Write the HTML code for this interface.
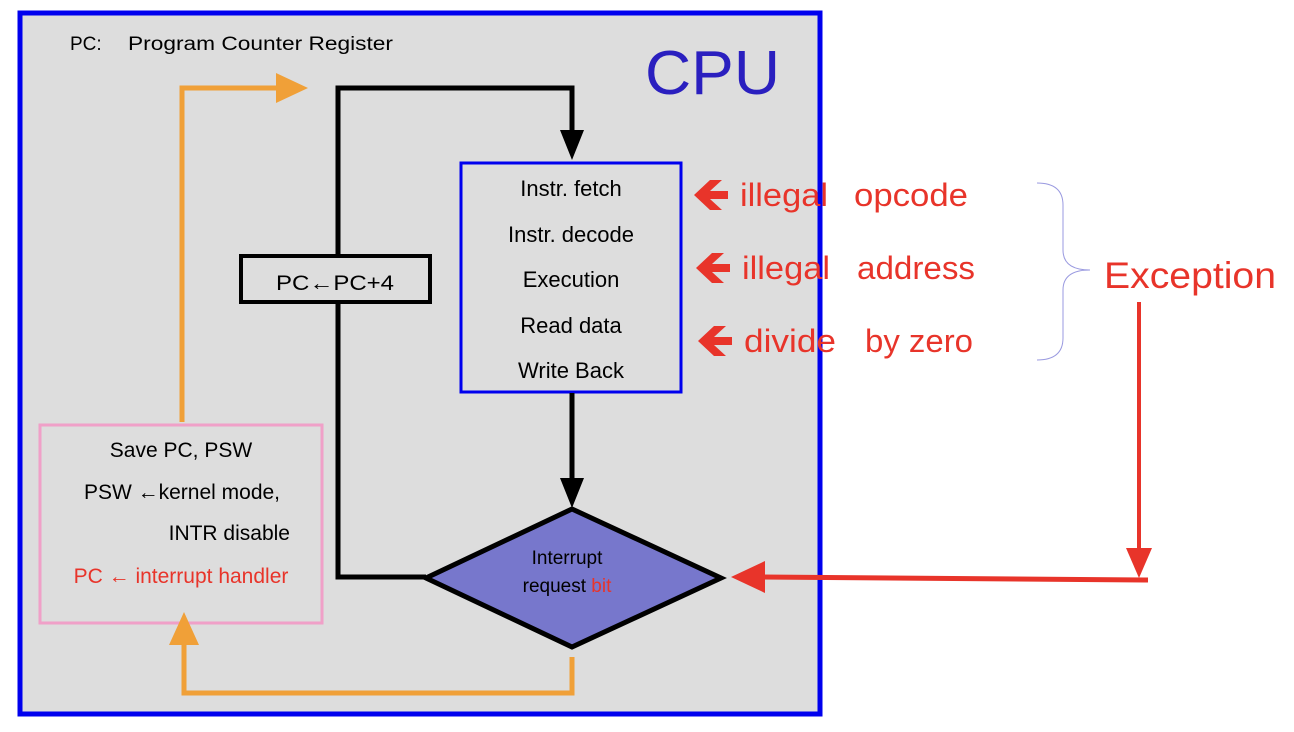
<!DOCTYPE html>
<html><head><meta charset="utf-8"><style>
html,body{margin:0;padding:0;background:#fff;}
svg{display:block;}
text{font-family:"Liberation Sans",sans-serif;}
</style></head><body>
<svg width="1294" height="732" viewBox="0 0 1294 732" xmlns="http://www.w3.org/2000/svg">
<rect x="20" y="13" width="800" height="701" fill="#dddddd" stroke="#0000ee" stroke-width="5"/>
<text x="70" y="50" font-size="19" fill="#000">PC:</text>
<text x="128" y="50" font-size="19" fill="#000" textLength="265" lengthAdjust="spacingAndGlyphs">Program Counter Register</text>
<text x="645" y="94" font-size="62" fill="#2a1fbf" textLength="135" lengthAdjust="spacingAndGlyphs">CPU</text>

<polyline points="182,422 182,88 280,88" fill="none" stroke="#f0a038" stroke-width="5"/>
<polygon points="276,73 308,88 276,103" fill="#f0a038"/>
<polyline points="338,255 338,88 572,88 572,135" fill="none" stroke="#000" stroke-width="5"/>
<polygon points="560,130 584,130 572,160" fill="#000"/>
<rect x="241" y="256" width="189" height="46" fill="none" stroke="#000" stroke-width="4"/>
<text x="335" y="290" font-size="21" text-anchor="middle" fill="#000" textLength="118" lengthAdjust="spacingAndGlyphs">PC←PC+4</text>
<polyline points="338,302 338,577 426,577" fill="none" stroke="#000" stroke-width="5"/>

<rect x="461" y="163" width="220" height="229" fill="none" stroke="#0000ee" stroke-width="3"/>
<g font-size="22" text-anchor="middle" fill="#000">
<text x="571" y="196">Instr. fetch</text>
<text x="571" y="242">Instr. decode</text>
<text x="571" y="287">Execution</text>
<text x="571" y="333">Read data</text>
<text x="571" y="378">Write Back</text>
</g>
<line x1="572" y1="393" x2="572" y2="482" stroke="#000" stroke-width="5"/>
<polygon points="560,478 584,478 572,508" fill="#000"/>

<polygon points="572,509 721,578 572,647 426,578" fill="#7777cc" stroke="#000" stroke-width="5"/>
<text x="567" y="564" font-size="19" text-anchor="middle" fill="#000">Interrupt</text>
<text x="567" y="592" font-size="19" text-anchor="middle" fill="#000">request <tspan fill="#e8342a">bit</tspan></text>

<line x1="1148" y1="580" x2="760" y2="577" stroke="#e8342a" stroke-width="5"/>
<polygon points="765,561 731,577 765,593" fill="#e8342a"/>
<line x1="1139" y1="302" x2="1139" y2="552" stroke="#e8342a" stroke-width="4"/>
<polygon points="1126,548 1152,548 1139,578" fill="#e8342a"/>

<g fill="#e8342a" font-size="32">
<text x="740" y="206" textLength="88" lengthAdjust="spacingAndGlyphs">illegal</text>
<text x="854" y="206" textLength="114" lengthAdjust="spacingAndGlyphs">opcode</text>
<text x="742" y="279" textLength="88" lengthAdjust="spacingAndGlyphs">illegal</text>
<text x="857" y="279" textLength="118" lengthAdjust="spacingAndGlyphs">address</text>
<text x="744" y="352" textLength="92" lengthAdjust="spacingAndGlyphs">divide</text>
<text x="865" y="352" textLength="108" lengthAdjust="spacingAndGlyphs">by zero</text>
</g>
<g fill="#e8342a">
<polygon points="694,195 710,180 722,180 710,191 728,191 728,199 710,199 722,210 710,210"/>
<polygon points="696,268 712,253 724,253 712,264 730,264 730,272 712,272 724,283 712,283"/>
<polygon points="698,341 714,326 726,326 714,337 732,337 732,345 714,345 726,356 714,356"/>
</g>
<path d="M1037,183 Q1063,183 1063,205 L1063,250 Q1063,270 1090,270 Q1063,270 1063,290 L1063,338 Q1063,360 1037,360" fill="none" stroke="#9a9ae0" stroke-width="1"/>
<text x="1104" y="288" font-size="37" fill="#e8342a" textLength="172" lengthAdjust="spacingAndGlyphs">Exception</text>

<rect x="40" y="425" width="282" height="198" fill="none" stroke="#f0a0c8" stroke-width="3"/>
<g font-size="21" fill="#000">
<text x="181" y="457" text-anchor="middle">Save PC, PSW</text>
<text x="182" y="499" text-anchor="middle">PSW ←kernel mode,</text>
<text x="290" y="540" text-anchor="end">INTR disable</text>
<text x="181" y="583" text-anchor="middle" fill="#e8342a">PC ← interrupt handler</text>
</g>

<polyline points="572,657 572,693 184,693 184,640" fill="none" stroke="#f0a038" stroke-width="5"/>
<polygon points="169,645 199,645 184,612" fill="#f0a038"/>
</svg>
</body></html>
